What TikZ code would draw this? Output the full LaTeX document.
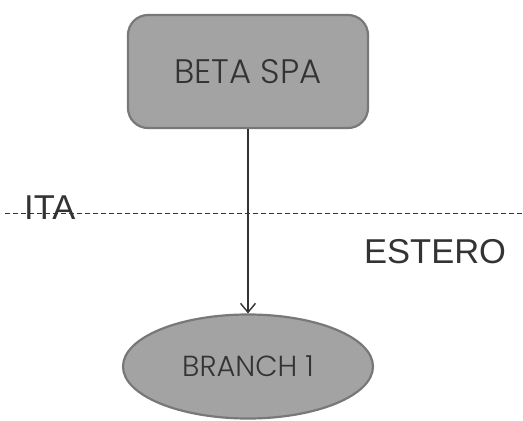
\documentclass[tikz,border=0pt]{standalone}
\usepackage{fontspec}
\setmainfont{Liberation Sans}
\newfontfamily\geofont{Poppins Light}
\usetikzlibrary{shapes.geometric,arrows.meta}
\definecolor{boxfill}{HTML}{A3A3A3}
\definecolor{boxline}{HTML}{787878}
\definecolor{textgray}{HTML}{333333}
\tikzset{
  entity/.style={draw=boxline, fill=boxfill, line width=2.2pt, text=textgray},
  region/.style={text=textgray, font=\fontsize{34.5}{34.5}\selectfont, inner sep=0pt, anchor=base west},
  link/.style={draw=textgray, line width=1.4pt, -{Straight Barb[length=9pt,width=15pt,line width=1.4pt]}},
  border/.style={draw=textgray, line width=0.9pt, dash pattern=on 5pt off 3pt}
}
\begin{document}
\begin{tikzpicture}[x=1pt,y=-1pt]
  \useasboundingbox (0,0) rectangle (523,421);
  % boundary between the two regions
  \coordinate (bl) at (5,213);
  \coordinate (br) at (523,213);
  \draw[border] (bl) -- (br);
  \node[region] (ita) at (24,219) {ITA};
  \node[region] (estero) at (364,263) {ESTERO};
  % company and branch
  \node[entity, rounded corners=20pt, minimum width=240pt, minimum height=113pt,
        font=\geofont\fontsize{34}{34}\selectfont] (spa) at (248,71.5) {BETA SPA};
  \node[entity, ellipse, minimum width=250pt, minimum height=104pt, inner sep=0pt,
        font=\geofont\fontsize{29}{29}\selectfont] (branch) at (248,366.5) {BRANCH 1};
  \draw[link] (spa) -- (branch);
\end{tikzpicture}
\end{document}
